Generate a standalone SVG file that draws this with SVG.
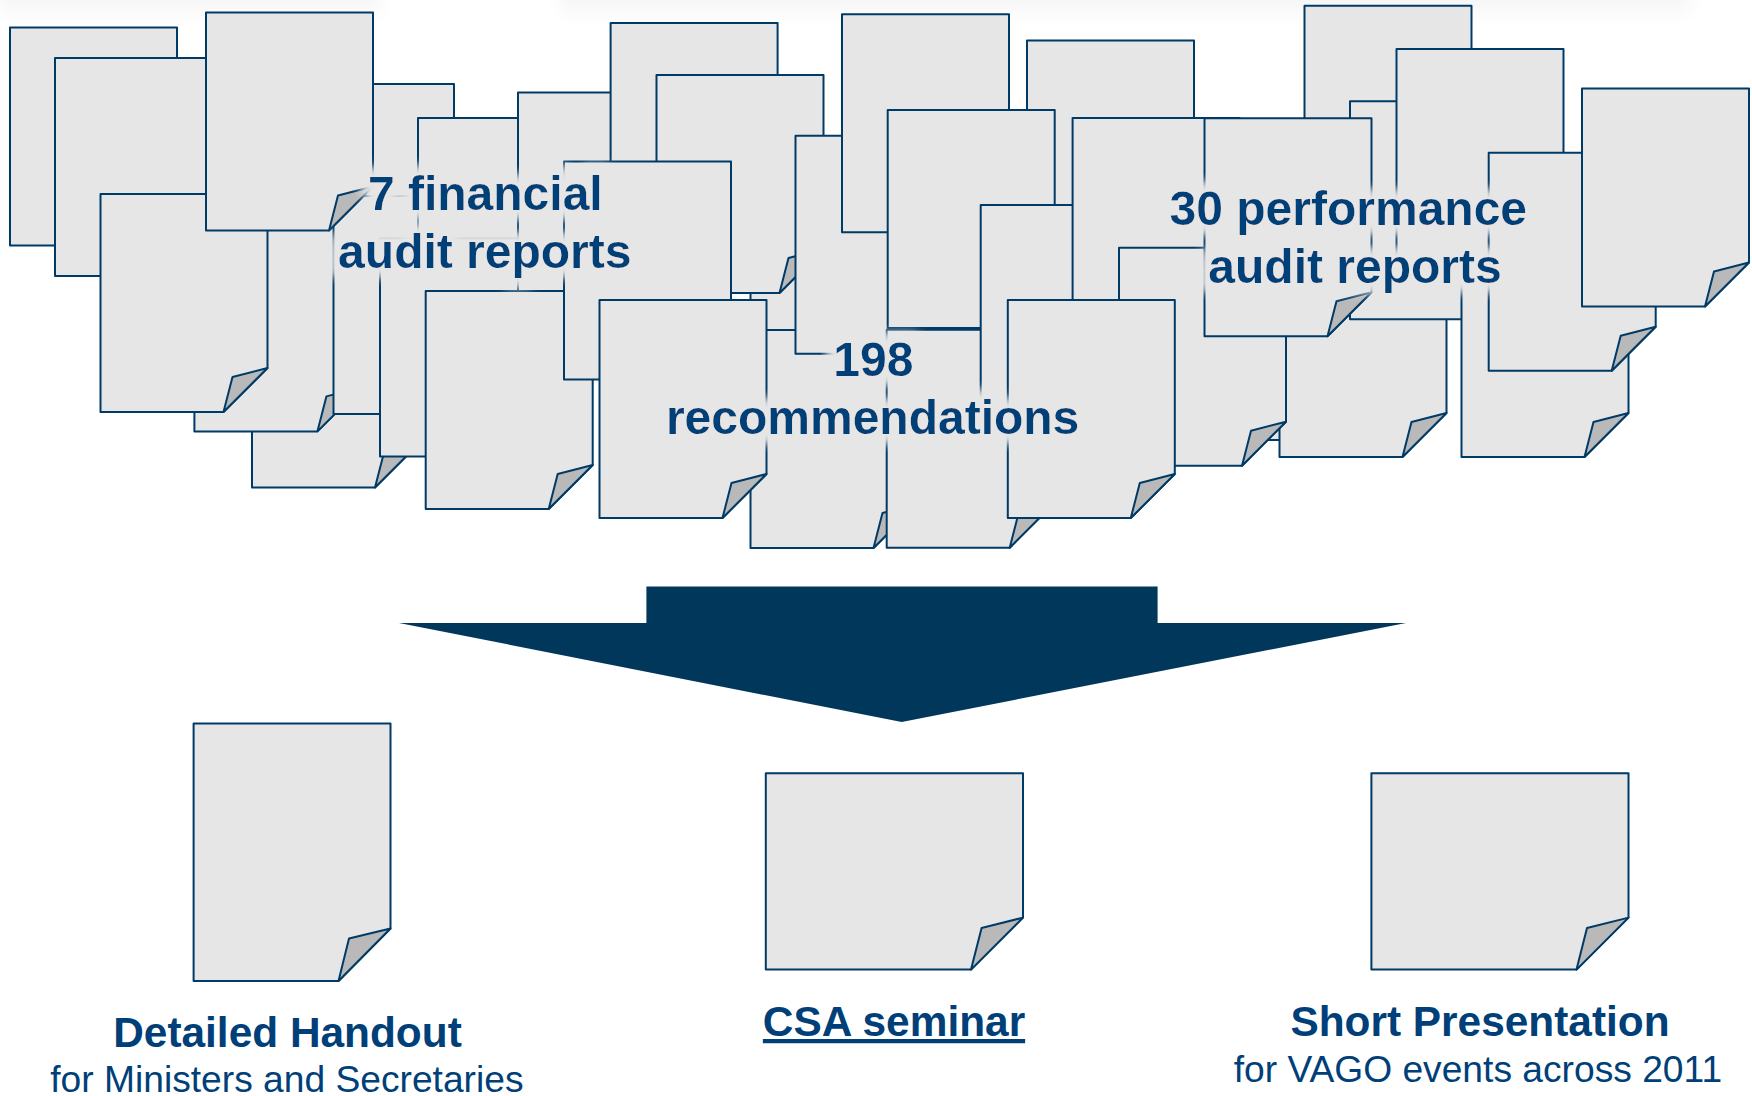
<svg xmlns="http://www.w3.org/2000/svg" width="1752" height="1096" viewBox="0 0 1752 1096">
<style>
.page{fill:#e6e6e6;stroke:#003a66;stroke-width:2;stroke-linejoin:round}
.fold{fill:#b9b9b9;stroke:#003a66;stroke-width:2;stroke-linejoin:round}
.callout{font-family:"Liberation Sans",Arial,sans-serif;font-weight:700;font-size:48px;fill:#003f78;text-anchor:middle;filter:url(#glow)}
.title{font-family:"Liberation Sans",Arial,sans-serif;font-weight:700;font-size:42.4px;fill:#003f78;text-anchor:middle}
.sub{font-family:"Liberation Sans",Arial,sans-serif;font-size:37.2px;fill:#003f78;text-anchor:middle}
</style>
<defs>
<filter id="glow" x="-15%" y="-60%" width="130%" height="220%">
<feMorphology in="SourceAlpha" operator="dilate" radius="10" result="d"/>
<feGaussianBlur in="d" stdDeviation="5" result="b"/>
<feFlood flood-color="#e6e6e6"/>
<feComposite in2="b" operator="in" result="g"/>
<feMerge><feMergeNode in="g"/><feMergeNode in="SourceGraphic"/></feMerge>
</filter>
<filter id="smudge" x="-5%" y="-150%" width="110%" height="400%"><feGaussianBlur stdDeviation="9"/></filter>
<g id="sheet">
<path class="page" d="M0 0H167V174L123 218H0Z"/>
<path class="fold" d="M123 218L132 183L167 174Z"/>
</g>
</defs>
<rect width="1752" height="1096" fill="#ffffff"/>
<g id="top-shade" filter="url(#smudge)" fill="#f6f6f6">
<rect x="0" y="-14" width="380" height="26"/>
<rect x="560" y="-14" width="1130" height="26"/>
</g>
<g id="report-stack">
<g id="doc-e" transform="translate(287 84)"><use href="#sheet"/></g>
<g id="doc-g" transform="translate(252 269.500)"><use href="#sheet"/></g>
<g id="doc-f" transform="translate(194.400 213.400)"><use href="#sheet"/></g>
<g id="doc-i" transform="translate(333.500 196)"><use href="#sheet"/></g>
<g id="doc-a" transform="translate(10 27.500)"><use href="#sheet"/></g>
<g id="doc-b" transform="translate(55 58)"><use href="#sheet"/></g>
<g id="doc-c" transform="translate(100.500 194)"><use href="#sheet"/></g>
<g id="doc-d" transform="translate(206 12.500)"><use href="#sheet"/></g>
<g id="doc-j" transform="translate(418 118)"><use href="#sheet"/></g>
<g id="doc-h" transform="translate(380 238.500)"><use href="#sheet"/></g>
<g id="doc-k" transform="translate(518 92.500)"><use href="#sheet"/></g>
<g id="doc-l" transform="translate(610.600 23)"><use href="#sheet"/></g>
<g id="doc-w" transform="translate(750.500 140)"><use href="#sheet"/></g>
<g id="doc-m" transform="translate(656.500 75)"><use href="#sheet"/></g>
<g id="doc-t" transform="translate(750.500 330)"><use href="#sheet"/></g>
<g id="doc-n" transform="translate(425.700 291)"><use href="#sheet"/></g>
<g id="doc-p" transform="translate(564 161.400)"><use href="#sheet"/></g>
<g id="doc-q" transform="translate(599.500 300)"><use href="#sheet"/></g>
<g id="doc-r" transform="translate(795.500 135.700)"><use href="#sheet"/></g>
<g id="doc-s" transform="translate(842 14.300)"><use href="#sheet"/></g>
<g id="doc-t2" transform="translate(886.700 329.700)"><use href="#sheet"/></g>
<g id="doc-ac" transform="translate(1027 40.400)"><use href="#sheet"/></g>
<g id="doc-v" transform="translate(887.700 110)"><use href="#sheet"/></g>
<g id="doc-y" transform="translate(980.700 205)"><use href="#sheet"/></g>
<g id="doc-ak" transform="translate(1160 222)"><use href="#sheet"/></g>
<g id="doc-z" transform="translate(1072.600 118)"><use href="#sheet"/></g>
<g id="doc-ai" transform="translate(1279.500 239)"><use href="#sheet"/></g>
<g id="doc-aa" transform="translate(1119 247.700)"><use href="#sheet"/></g>
<g id="doc-x" transform="translate(1007.800 300)"><use href="#sheet"/></g>
<g id="doc-ad" transform="translate(1304.500 5.700)"><use href="#sheet"/></g>
<g id="doc-ae" transform="translate(1350 101.300)"><use href="#sheet"/></g>
<g id="doc-ab" transform="translate(1204.500 118.200)"><use href="#sheet"/></g>
<g id="doc-aj" transform="translate(1461.500 239)"><use href="#sheet"/></g>
<g id="doc-af" transform="translate(1396.500 49)"><use href="#sheet"/></g>
<g id="doc-ag" transform="translate(1488.700 152.700)"><use href="#sheet"/></g>
<g id="doc-ah" transform="translate(1582 88.500)"><use href="#sheet"/></g>
</g>
<g id="connectors">
<path id="big-arrow" fill="#02375c" d="M646.400 586.500H1157.600V623H1406L901.700 722L399 623H646.400Z"/>
</g>
<g id="label-financial">
<text class="callout" x="485.300" y="209.500">7 financial</text>
<text class="callout" x="484.800" y="267.500">audit reports</text>
</g>
<g id="label-recommendations">
<text class="callout" x="873.300" y="376">198</text>
<text class="callout" x="872.600" y="434">recommendations</text>
</g>
<g id="label-performance">
<text class="callout" x="1348.300" y="225">30 performance</text>
<text class="callout" x="1355" y="283.300">audit reports</text>
</g>
<g id="handout">
<path class="page" d="M193.600 723.400H390.500V928.500L338.500 981H193.600Z"/>
<path class="fold" d="M338.500 981L349 938.500L390.500 928.500Z"/>
<text class="title" x="287.500" y="1046.500">Detailed Handout</text>
<text class="sub" x="286.900" y="1092">for Ministers and Secretaries</text>
</g>
<g id="seminar">
<path class="page" d="M765.800 773.200H1023V917.600L971 969.600H765.800Z"/>
<path class="fold" d="M971 969.600L981.600 928L1023 917.600Z"/>
<text class="title" x="894" y="1036" text-decoration="underline">CSA seminar</text>
</g>
<g id="presentation">
<path class="page" d="M1371.400 773.200H1628.500V917.600L1576.500 969.600H1371.400Z"/>
<path class="fold" d="M1576.500 969.600L1587 928L1628.500 917.600Z"/>
<text class="title" x="1480" y="1036">Short Presentation</text>
<text class="sub" x="1477.900" y="1081.500">for VAGO events across 2011</text>
</g>
</svg>
